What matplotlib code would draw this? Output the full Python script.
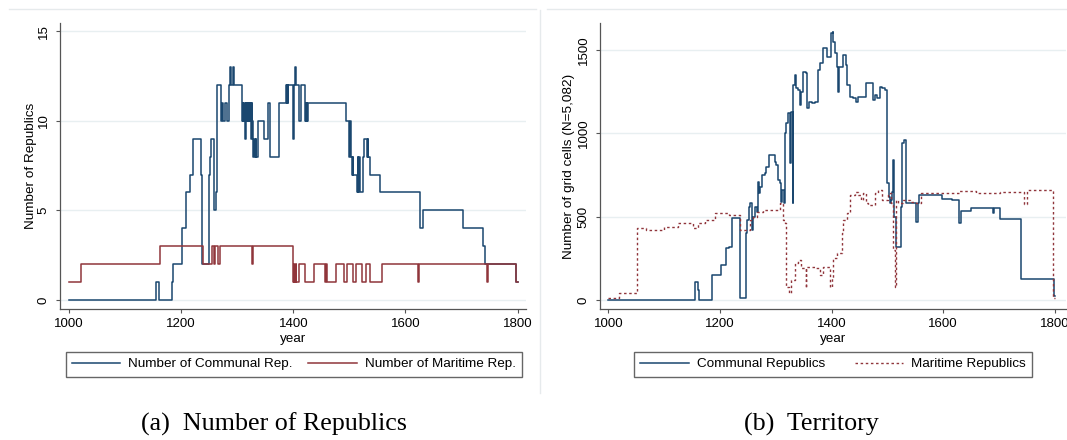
import matplotlib
matplotlib.use("Agg")
import matplotlib.pyplot as plt
from matplotlib.lines import Line2D

plt.rcParams["font.family"] = ["Liberation Sans", "DejaVu Sans"]

# (a) number of republics, step changes: year -> count
communal_years = [1000, 1155, 1161, 1184, 1186, 1201, 1208, 1216, 1221, 1236, 1238,
                  1249, 1251.7, 1254, 1258, 1259.4, 1261.8, 1264.8, 1270.7, 1273, 1275.5,
                  1278, 1281.4, 1285.6, 1287.4, 1288.5, 1293, 1294.5, 1308, 1309, 1310,
                  1311, 1312.5, 1313.5, 1315, 1316, 1317, 1318, 1319, 1320.5, 1321.5,
                  1323, 1324, 1325, 1326, 1327, 1328, 1330, 1331, 1333, 1334, 1336.5,
                  1348, 1355, 1358, 1374.5, 1387, 1388, 1389, 1390, 1391, 1399, 1400.5,
                  1403, 1404, 1410, 1413, 1421, 1422, 1423, 1424, 1425, 1426.5, 1494,
                  1499.5, 1501, 1502.5, 1504, 1506, 1507, 1513, 1515, 1516, 1517.5,
                  1518.5, 1524, 1527, 1532, 1533, 1534, 1536, 1555, 1626, 1631, 1702.5,
                  1738, 1742, 1797, 1800]
communal_count = [0, 1, 0, 1, 2, 4, 6, 7, 9, 7, 2,
                  7, 8, 9, 6, 5, 6, 12, 10, 11, 10,
                  11, 10, 12, 13, 12, 13, 12, 11, 10, 11,
                  10, 11, 9, 11, 10, 11, 10, 11, 10, 11,
                  10, 11, 9, 11, 10, 8, 9, 8, 9, 8, 10,
                  9, 11, 8, 11, 12, 11, 12, 11, 12, 9, 12,
                  13, 12, 10, 12, 10, 11, 10, 11, 10, 11, 10,
                  8, 10, 8, 7, 8, 7, 6, 8, 6, 8,
                  6, 8, 9, 8, 9, 8, 7, 6, 4, 5, 4,
                  3, 2, 1, 1]

maritime_years = [1000, 1021, 1162, 1238.5, 1255, 1259, 1260, 1265, 1270, 1327, 1328,
                  1399, 1401, 1402, 1404, 1405, 1411, 1421, 1436.5, 1457, 1458, 1460,
                  1477, 1490, 1495, 1506, 1512.5, 1523, 1530, 1536, 1558, 1623, 1625,
                  1745, 1748, 1798, 1800]
maritime_count = [1, 2, 3, 2, 3, 2, 3, 2, 3, 2, 3,
                  1, 2, 1, 2, 1, 2, 1, 2, 1, 2, 1,
                  2, 1, 2, 1, 2, 1, 2, 1, 2, 1, 2,
                  1, 2, 1, 1]

# (b) territory, number of grid cells
communal_cell_years = [1000, 1156, 1160, 1163, 1185, 1201, 1210, 1216, 1221, 1236, 1246.5,
                       1248, 1252, 1254.5, 1257, 1259.5, 1262.5, 1265.5, 1268.5, 1270,
                       1272.5, 1276, 1280.5, 1282, 1288, 1298, 1301, 1304, 1307, 1310,
                       1312, 1314.5, 1316, 1319, 1322, 1325, 1327, 1330, 1331, 1334,
                       1335.5, 1340, 1343, 1345, 1349, 1354, 1356, 1359, 1364, 1370, 1376,
                       1380, 1385, 1391, 1398.5, 1402, 1403, 1406, 1410, 1412, 1413.5,
                       1420.5, 1425.5, 1428, 1432.5, 1438.5, 1444.5, 1446.5, 1461.5,
                       1474.5, 1477, 1480.5, 1486.5, 1491, 1495, 1498.5, 1500, 1503,
                       1505.5, 1507, 1509, 1510, 1512, 1514.5, 1516, 1523.5, 1525, 1527,
                       1529, 1533, 1552, 1554, 1556, 1597, 1616, 1628, 1632, 1650, 1690,
                       1691, 1702, 1740, 1799, 1800]
communal_cells = [0, 110, 60, 0, 150, 210, 310, 320, 490, 15, 400,
                  480, 560, 580, 420, 500, 560, 530, 710, 640,
                  680, 750, 760, 800, 870, 830, 810, 720, 700, 590,
                  660, 580, 1000, 1060, 1120, 820, 1130, 580, 1290, 1350,
                  1270, 1260, 1170, 1250, 1370, 1360, 1150, 1190, 1180, 1190, 1380,
                  1420, 1510, 1460, 1600, 1610, 1550, 1480, 1400, 1250, 1400,
                  1470, 1410, 1290, 1220, 1210, 1190, 1220, 1300,
                  1200, 1230, 1210, 1280, 1270, 1260, 720, 700, 620,
                  580, 600, 650, 840, 500, 330, 320, 370, 560, 940,
                  960, 580, 470, 580, 630, 605, 600, 465, 535, 555, 520,
                  555, 485, 125, 25, 25]

maritime_cell_years = [1000, 1019, 1051, 1068, 1099, 1124, 1151, 1160, 1173, 1191, 1216,
                       1236, 1253.5, 1259.5, 1265.5, 1277.5, 1307.5, 1313, 1316, 1319,
                       1324, 1328, 1334, 1340, 1346, 1354, 1355, 1370, 1379, 1385, 1397,
                       1400, 1403, 1409, 1418, 1421, 1427, 1433, 1442, 1447.5, 1453.5,
                       1456.5, 1462.5, 1465.5, 1477.5, 1483.5, 1489.5, 1501.5, 1507, 1510,
                       1513, 1516, 1519, 1528, 1540, 1552, 1560, 1628, 1659, 1702, 1745,
                       1750, 1797, 1800]
maritime_cells = [15, 40, 430, 420, 440, 465, 430, 460, 480, 520, 510,
                  420, 480, 500, 530, 540, 580, 480, 460, 80,
                  40, 120, 220, 240, 190, 70, 200, 190, 150, 200, 80,
                  130, 250, 280, 400, 480, 520, 630, 650, 630, 600,
                  640, 580, 570, 640, 660, 600, 640, 580, 300,
                  80, 600, 580, 600, 590, 580, 640, 655, 645, 650, 575,
                  660, 10, 10]

navy = "#1a476f"
maroon = "#90353b"
grid_col = "#e8eff1"
axis_col = "#555555"

W, H = 1067, 440
fig = plt.figure(figsize=(W / 100, H / 100), dpi=100)


def px_axes(left, top, right, bottom):
    return fig.add_axes([left / W, 1 - bottom / H, (right - left) / W, (bottom - top) / H])


def style(ax, yticks):
    for s in ("top", "right"):
        ax.spines[s].set_visible(False)
    for s in ("left", "bottom"):
        ax.spines[s].set_color(axis_col)
        ax.spines[s].set_linewidth(0.9)
    ax.set_yticks(yticks)
    ax.set_xticks([1000, 1200, 1400, 1600, 1800])
    ax.tick_params(axis="both", direction="out", length=3, width=0.8, color=axis_col,
                   labelsize=9.5)
    ax.tick_params(axis="x", pad=3.5)
    ax.tick_params(axis="y", pad=4.5)
    for lab in ax.get_yticklabels():
        lab.set_rotation(90)
        lab.set_va("center")
    ax.grid(axis="y", color=grid_col, linewidth=1.0)
    ax.set_axisbelow(True)
    ax.set_xlabel("year", fontsize=9.7, labelpad=0)
    ax.xaxis.set_label_coords(0.5, -0.085)


# left panel
ax1 = px_axes(60, 23, 526, 309)
ax1.plot(communal_years, communal_count, drawstyle="steps-post", color=navy, lw=1.1,
         label="Number of Communal Rep.")
ax1.plot(maritime_years, maritime_count, drawstyle="steps-post", color=maroon, lw=1.1,
         label="Number of Maritime Rep.")
ax1.set_xlim(984, 1815)
ax1.set_ylim(-0.5, 15.45)
style(ax1, [0, 5, 10, 15])
ax1.set_ylabel("Number of Republics", fontsize=9.7)
ax1.yaxis.set_label_coords(-0.049, 0.5)

# right panel
ax2 = px_axes(600, 23, 1066, 309)
ax2.plot(communal_cell_years, communal_cells, drawstyle="steps-post", color=navy, lw=1.1,
         label="Communal Republics")
ax2.plot(maritime_cell_years, maritime_cells, drawstyle="steps-post", color=maroon, lw=1.0,
         dashes=(1.8, 1.9), label="Maritime Republics")
ax2.set_xlim(985, 1820)
ax2.set_ylim(-54, 1662)
style(ax2, [0, 500, 1000, 1500])
ax2.set_ylabel("Number of grid cells (N=5,082)", fontsize=9.7)
ax2.yaxis.set_label_coords(-0.054, 0.5)


def legend(ax, left, top, right, bottom):
    leg = ax.legend(loc="upper left", ncol=2, mode="expand",
                    bbox_to_anchor=(left / W, 1 - bottom / H, (right - left) / W, (bottom - top) / H),
                    bbox_transform=fig.transFigure, frameon=True, fancybox=False,
                    fontsize=9.7, handlelength=3.6, handletextpad=0.6, borderpad=0.45,
                    borderaxespad=0, columnspacing=1.5)
    fr = leg.get_frame()
    fr.set_edgecolor("#404040")
    fr.set_linewidth(1.0)
    return leg


legend(ax1, 65.5, 352, 522, 377)
legend(ax2, 634, 352, 1032, 377)

# captions
serif = ["Liberation Serif", "DejaVu Serif"]
fig.text(274 / W, 1 - 424 / H, "(a)  Number of Republics", family=serif, fontsize=18.7,
         ha="center", va="center")
fig.text(811 / W, 1 - 424 / H, "(b)  Territory", family=serif, fontsize=18.7,
         ha="center", va="center")

# faint outlines of the two graph regions
edge = "#e6eaec"
fig.add_artist(Line2D([9 / W, 536 / W], [1 - 9 / H, 1 - 9 / H], color=edge, lw=1))
fig.add_artist(Line2D([547 / W, 1], [1 - 9 / H, 1 - 9 / H], color=edge, lw=1))
fig.add_artist(Line2D([540 / W, 540 / W], [1 - 10 / H, 1 - 393 / H], color=edge, lw=1))

fig.savefig("out.png", dpi=100, facecolor="white")
